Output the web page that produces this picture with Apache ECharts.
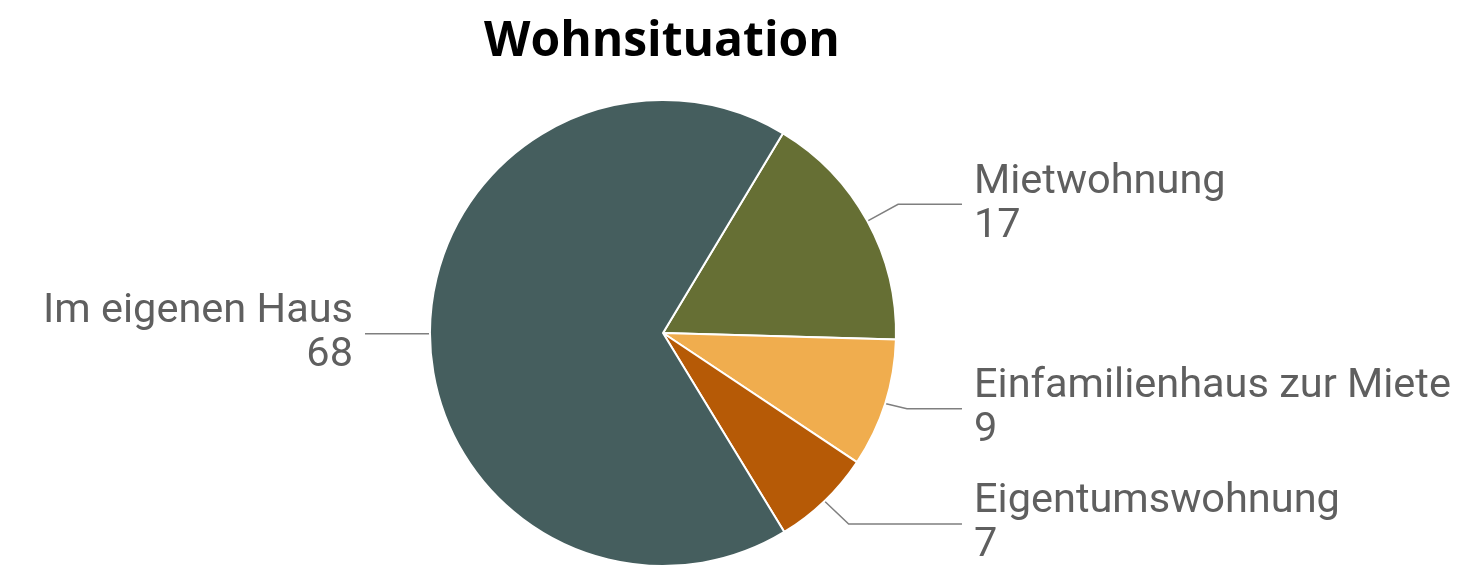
<!DOCTYPE html>
<html>
<head>
<meta charset="utf-8">
<title>Wohnsituation</title>
<script src="https://cdn.jsdelivr.net/npm/echarts@6/dist/echarts.min.js"></script>
<style>
  html, body { margin: 0; padding: 0; background: #fff; }
  #chart { width: 1470px; height: 569px; }
</style>
</head>
<body>
<div id="chart"></div>
<script>
// Daten
var kategorien = ['Mietwohnung', 'Einfamilienhaus zur Miete', 'Eigentumswohnung', 'Im eigenen Haus'];
var werte = [17, 9, 7, 68];
var farben = ['#666f34', '#f0ad4e', '#b65a06', '#455e5e'];
// Länge der Führungslinien (erstes Segment) je Kategorie
var linienLaenge = [35, 23, 35, 10];

var chart = echarts.init(document.getElementById('chart'));

var daten = kategorien.map(function (name, i) {
  return {
    name: name,
    value: werte[i],
    itemStyle: { color: farben[i] },
    labelLine: { length: linienLaenge[i], length2: 55 }
  };
});

var option = {
  animation: false,
  title: {
    text: 'Wohnsituation',
    left: 479,
    top: 13,
    textStyle: {
      fontFamily: 'Open Sans',
      fontWeight: 'bold',
      fontSize: 48,
      color: '#000'
    }
  },
  series: [
    {
      type: 'pie',
      center: [663, 333],
      radius: 233,
      startAngle: 59,
      clockwise: true,
      itemStyle: {
        borderColor: '#fff',
        borderWidth: 2
      },
      label: {
        show: true,
        formatter: '{b}\n{c}',
        fontFamily: 'Roboto',
        fontSize: 41.5,
        lineHeight: 44,
        color: '#5f5f5f',
        alignTo: 'labelLine',
        distanceToLabelLine: 12
      },
      labelLine: {
        show: true,
        lineStyle: { color: '#7f7f7f', width: 1.5 }
      },
      emphasis: { disabled: true },
      data: daten
    }
  ]
};

chart.setOption(option);
</script>
</body>
</html>
